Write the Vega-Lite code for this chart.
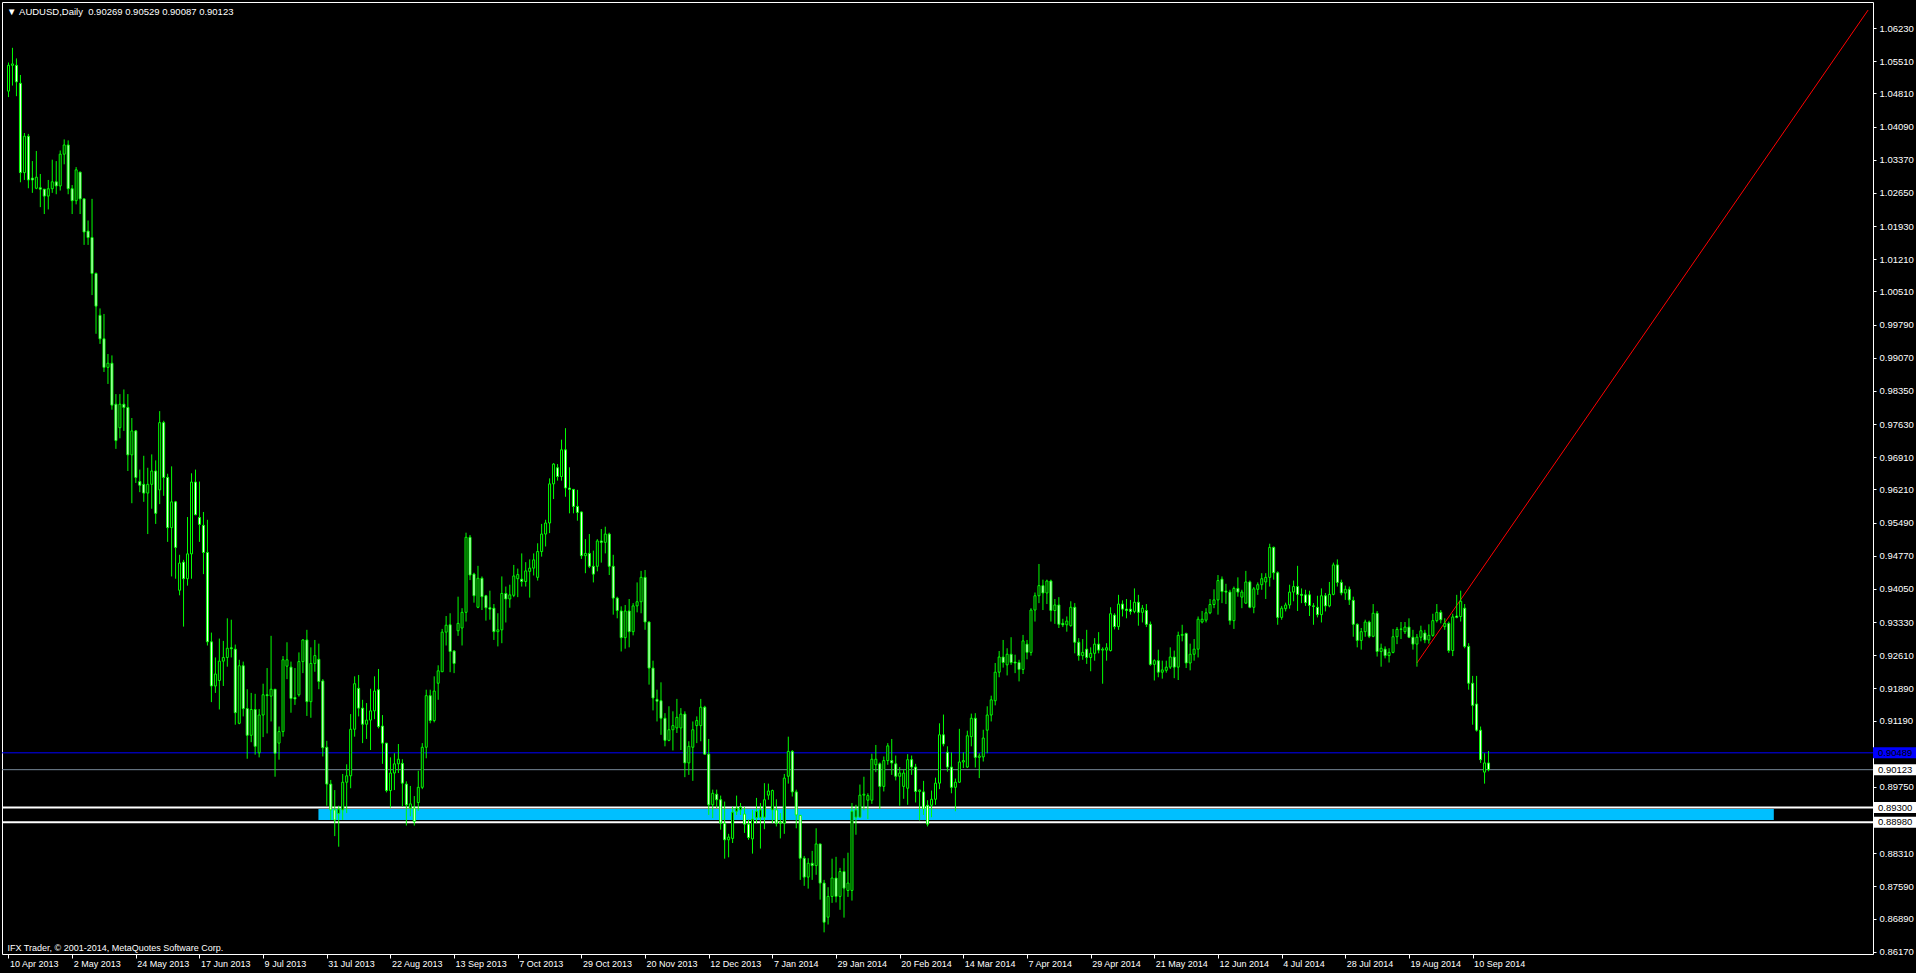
{
"$schema": "https://vega.github.io/schema/vega-lite/v6.json",
"width": 1871, "height": 952,
"autosize": {"type": "none"},
"padding": {"left": 2, "top": 2, "right": 43, "bottom": 19},
"background": "#000000",
"config": {"view": {"stroke": "#ffffff", "strokeWidth": 1, "fill": "#000000"}, "font": "Liberation Sans",
 "axis": {"labelOverlap": false, "labelFlush": false, "labelBound": false, "grid": false, "domain": false, "labelColor": "#ffffff", "tickColor": "#ffffff", "labelFont": "Liberation Sans", "labelFontSize": 9}},
"title": {"text": "▼\u00a0AUDUSD,Daily\u00a0\u00a00.90269 0.90529 0.90087 0.90123", "anchor": "start", "orient": "top", "frame": "group", "offset": -9, "dy": 10, "baseline": "middle", "dx": 5, "color": "#ffffff", "font": "Liberation Sans", "fontSize": 9.5, "fontWeight": "normal"},
"datasets": {
"levels": [{"p":0.90489,"kind":"alert"},{"p":0.90123,"kind":"bid"},{"p":0.8930,"kind":"zone"},{"p":0.8898,"kind":"zone"}],
"zone": [{"t1":77.9,"t2":443.7,"p1":0.8903,"p2":0.8927}],
"trend": [{"i":354,"p":0.9244},{"i":467.4,"p":1.0662}],
"bars": [
{"i":0,"o":1.0486,"h":1.0548,"l":1.0473,"c":1.0542},
{"i":1,"o":1.0542,"h":1.0580,"l":1.0498,"c":1.0545},
{"i":2,"o":1.0542,"h":1.0557,"l":1.0475,"c":1.0506},
{"i":3,"o":1.0503,"h":1.0521,"l":1.0288,"c":1.0309},
{"i":4,"o":1.0309,"h":1.0395,"l":1.0293,"c":1.0388},
{"i":5,"o":1.0388,"h":1.0393,"l":1.0275,"c":1.0293},
{"i":6,"o":1.0297,"h":1.0334,"l":1.0265,"c":1.0293},
{"i":7,"o":1.0275,"h":1.0356,"l":1.0273,"c":1.0299},
{"i":8,"o":1.0276,"h":1.0306,"l":1.0234,"c":1.0273},
{"i":9,"o":1.0273,"h":1.0273,"l":1.0219,"c":1.0258},
{"i":10,"o":1.0258,"h":1.0293,"l":1.0229,"c":1.0274},
{"i":11,"o":1.0274,"h":1.0337,"l":1.0265,"c":1.0289},
{"i":12,"o":1.0289,"h":1.0334,"l":1.0262,"c":1.0280},
{"i":13,"o":1.0280,"h":1.0357,"l":1.0270,"c":1.0349},
{"i":14,"o":1.0349,"h":1.0381,"l":1.0327,"c":1.0369},
{"i":15,"o":1.0369,"h":1.0379,"l":1.0262,"c":1.0274},
{"i":16,"o":1.0274,"h":1.0282,"l":1.0219,"c":1.0248},
{"i":17,"o":1.0248,"h":1.0321,"l":1.0240,"c":1.0315},
{"i":18,"o":1.0310,"h":1.0311,"l":1.0219,"c":1.0252},
{"i":19,"o":1.0252,"h":1.0252,"l":1.0152,"c":1.0180},
{"i":20,"o":1.0182,"h":1.0205,"l":1.0152,"c":1.0168},
{"i":21,"o":1.0168,"h":1.0252,"l":1.0043,"c":1.0090},
{"i":22,"o":1.0090,"h":1.0092,"l":0.9959,"c":1.0019},
{"i":23,"o":0.9999,"h":1.0014,"l":0.9937,"c":0.9948},
{"i":24,"o":0.9948,"h":1.0002,"l":0.9876,"c":0.9886},
{"i":25,"o":0.9886,"h":0.9915,"l":0.9850,"c":0.9895},
{"i":26,"o":0.9895,"h":0.9912,"l":0.9794,"c":0.9804},
{"i":27,"o":0.9806,"h":0.9828,"l":0.9709,"c":0.9727},
{"i":28,"o":0.9755,"h":0.9828,"l":0.9732,"c":0.9806},
{"i":29,"o":0.9806,"h":0.9838,"l":0.9748,"c":0.9799},
{"i":30,"o":0.9799,"h":0.9828,"l":0.9661,"c":0.9696},
{"i":31,"o":0.9696,"h":0.9776,"l":0.9591,"c":0.9748},
{"i":32,"o":0.9748,"h":0.9750,"l":0.9635,"c":0.9647},
{"i":33,"o":0.9638,"h":0.9664,"l":0.9615,"c":0.9630},
{"i":34,"o":0.9632,"h":0.9694,"l":0.9594,"c":0.9613},
{"i":35,"o":0.9613,"h":0.9668,"l":0.9524,"c":0.9632},
{"i":36,"o":0.9632,"h":0.9697,"l":0.9579,"c":0.9661},
{"i":37,"o":0.9661,"h":0.9684,"l":0.9546,"c":0.9569},
{"i":38,"o":0.9620,"h":0.9791,"l":0.9589,"c":0.9766},
{"i":39,"o":0.9766,"h":0.9770,"l":0.9607,"c":0.9647},
{"i":40,"o":0.9647,"h":0.9655,"l":0.9507,"c":0.9538},
{"i":41,"o":0.9538,"h":0.9671,"l":0.9432,"c":0.9594},
{"i":42,"o":0.9594,"h":0.9596,"l":0.9427,"c":0.9495},
{"i":43,"o":0.9402,"h":0.9479,"l":0.9391,"c":0.9461},
{"i":44,"o":0.9463,"h":0.9468,"l":0.9323,"c":0.9427},
{"i":45,"o":0.9427,"h":0.9561,"l":0.9412,"c":0.9481},
{"i":46,"o":0.9481,"h":0.9656,"l":0.9427,"c":0.9637},
{"i":47,"o":0.9637,"h":0.9664,"l":0.9565,"c":0.9566},
{"i":48,"o":0.9560,"h":0.9638,"l":0.9507,"c":0.9545},
{"i":49,"o":0.9543,"h":0.9572,"l":0.9437,"c":0.9484},
{"i":50,"o":0.9484,"h":0.9555,"l":0.9282,"c":0.9290},
{"i":51,"o":0.9290,"h":0.9310,"l":0.9159,"c":0.9194},
{"i":52,"o":0.9194,"h":0.9256,"l":0.9179,"c":0.9220},
{"i":53,"o":0.9206,"h":0.9297,"l":0.9143,"c":0.9248},
{"i":54,"o":0.9248,"h":0.9292,"l":0.9194,"c":0.9256},
{"i":55,"o":0.9256,"h":0.9341,"l":0.9236,"c":0.9276},
{"i":56,"o":0.9277,"h":0.9338,"l":0.9256,"c":0.9275},
{"i":57,"o":0.9274,"h":0.9284,"l":0.9110,"c":0.9136},
{"i":58,"o":0.9113,"h":0.9251,"l":0.9111,"c":0.9238},
{"i":59,"o":0.9238,"h":0.9247,"l":0.9128,"c":0.9145},
{"i":60,"o":0.9145,"h":0.9187,"l":0.9036,"c":0.9087},
{"i":61,"o":0.9087,"h":0.9179,"l":0.9072,"c":0.9143},
{"i":62,"o":0.9143,"h":0.9177,"l":0.9045,"c":0.9063},
{"i":63,"o":0.9049,"h":0.9144,"l":0.9039,"c":0.9131},
{"i":64,"o":0.9131,"h":0.9199,"l":0.9083,"c":0.9175},
{"i":65,"o":0.9175,"h":0.9233,"l":0.9091,"c":0.9173},
{"i":66,"o":0.9172,"h":0.9303,"l":0.9117,"c":0.9187},
{"i":67,"o":0.9187,"h":0.9187,"l":0.8997,"c":0.9048},
{"i":68,"o":0.9070,"h":0.9106,"l":0.9034,"c":0.9095},
{"i":69,"o":0.9095,"h":0.9259,"l":0.9084,"c":0.9251},
{"i":70,"o":0.9237,"h":0.9289,"l":0.9209,"c":0.9251},
{"i":71,"o":0.9235,"h":0.9247,"l":0.9136,"c":0.9167},
{"i":72,"o":0.9169,"h":0.9233,"l":0.9153,"c":0.9166},
{"i":73,"o":0.9175,"h":0.9267,"l":0.9171,"c":0.9247},
{"i":74,"o":0.9247,"h":0.9296,"l":0.9222,"c":0.9294},
{"i":75,"o":0.9294,"h":0.9316,"l":0.9129,"c":0.9160},
{"i":76,"o":0.9160,"h":0.9278,"l":0.9125,"c":0.9243},
{"i":77,"o":0.9243,"h":0.9294,"l":0.9225,"c":0.9260},
{"i":78,"o":0.9252,"h":0.9286,"l":0.9187,"c":0.9204},
{"i":79,"o":0.9205,"h":0.9209,"l":0.9041,"c":0.9060},
{"i":80,"o":0.9061,"h":0.9075,"l":0.8934,"c":0.8981},
{"i":81,"o":0.8981,"h":0.8990,"l":0.8903,"c":0.8925},
{"i":82,"o":0.8925,"h":0.8968,"l":0.8868,"c":0.8903},
{"i":83,"o":0.8917,"h":0.8934,"l":0.8845,"c":0.8927},
{"i":84,"o":0.8925,"h":0.9003,"l":0.8903,"c":0.8985},
{"i":85,"o":0.8985,"h":0.9024,"l":0.8918,"c":0.8999},
{"i":86,"o":0.8999,"h":0.9133,"l":0.8972,"c":0.9100},
{"i":87,"o":0.9100,"h":0.9215,"l":0.9084,"c":0.9199},
{"i":88,"o":0.9189,"h":0.9218,"l":0.9128,"c":0.9146},
{"i":89,"o":0.9146,"h":0.9164,"l":0.9070,"c":0.9111},
{"i":90,"o":0.9111,"h":0.9157,"l":0.9079,"c":0.9120},
{"i":91,"o":0.9120,"h":0.9188,"l":0.9055,"c":0.9140},
{"i":92,"o":0.9140,"h":0.9215,"l":0.9122,"c":0.9183},
{"i":93,"o":0.9186,"h":0.9231,"l":0.9102,"c":0.9106},
{"i":94,"o":0.9107,"h":0.9131,"l":0.9025,"c":0.9070},
{"i":95,"o":0.9070,"h":0.9070,"l":0.8963,"c":0.8967},
{"i":96,"o":0.8967,"h":0.9039,"l":0.8930,"c":0.9005},
{"i":97,"o":0.9005,"h":0.9048,"l":0.8968,"c":0.9025},
{"i":98,"o":0.9025,"h":0.9068,"l":0.9005,"c":0.9035},
{"i":99,"o":0.9026,"h":0.9035,"l":0.8932,"c":0.8983},
{"i":100,"o":0.8981,"h":0.8987,"l":0.8891,"c":0.8936},
{"i":101,"o":0.8929,"h":0.8977,"l":0.8911,"c":0.8938},
{"i":102,"o":0.8929,"h":0.8955,"l":0.8891,"c":0.8900},
{"i":103,"o":0.8941,"h":0.9010,"l":0.8923,"c":0.8974},
{"i":104,"o":0.8974,"h":0.9070,"l":0.8970,"c":0.9061},
{"i":105,"o":0.9061,"h":0.9186,"l":0.9037,"c":0.9173},
{"i":106,"o":0.9173,"h":0.9186,"l":0.9113,"c":0.9119},
{"i":107,"o":0.9119,"h":0.9215,"l":0.9115,"c":0.9183},
{"i":108,"o":0.9200,"h":0.9239,"l":0.9164,"c":0.9227},
{"i":109,"o":0.9225,"h":0.9318,"l":0.9225,"c":0.9311},
{"i":110,"o":0.9311,"h":0.9346,"l":0.9282,"c":0.9326},
{"i":111,"o":0.9327,"h":0.9352,"l":0.9224,"c":0.9269},
{"i":112,"o":0.9270,"h":0.9272,"l":0.9222,"c":0.9243},
{"i":113,"o":0.9314,"h":0.9388,"l":0.9303,"c":0.9330},
{"i":114,"o":0.9320,"h":0.9363,"l":0.9282,"c":0.9354},
{"i":115,"o":0.9354,"h":0.9527,"l":0.9334,"c":0.9517},
{"i":116,"o":0.9517,"h":0.9522,"l":0.9424,"c":0.9435},
{"i":117,"o":0.9437,"h":0.9440,"l":0.9375,"c":0.9390},
{"i":118,"o":0.9365,"h":0.9455,"l":0.9363,"c":0.9428},
{"i":119,"o":0.9428,"h":0.9432,"l":0.9359,"c":0.9388},
{"i":120,"o":0.9390,"h":0.9392,"l":0.9336,"c":0.9364},
{"i":121,"o":0.9364,"h":0.9401,"l":0.9338,"c":0.9361},
{"i":122,"o":0.9363,"h":0.9372,"l":0.9294,"c":0.9312},
{"i":123,"o":0.9312,"h":0.9352,"l":0.9280,"c":0.9316},
{"i":124,"o":0.9316,"h":0.9432,"l":0.9287,"c":0.9395},
{"i":125,"o":0.9395,"h":0.9410,"l":0.9332,"c":0.9383},
{"i":126,"o":0.9383,"h":0.9414,"l":0.9364,"c":0.9392},
{"i":127,"o":0.9391,"h":0.9457,"l":0.9387,"c":0.9433},
{"i":128,"o":0.9427,"h":0.9449,"l":0.9387,"c":0.9436},
{"i":129,"o":0.9426,"h":0.9482,"l":0.9410,"c":0.9421},
{"i":130,"o":0.9421,"h":0.9463,"l":0.9410,"c":0.9444},
{"i":131,"o":0.9443,"h":0.9469,"l":0.9386,"c":0.9450},
{"i":132,"o":0.9450,"h":0.9482,"l":0.9434,"c":0.9468},
{"i":133,"o":0.9430,"h":0.9504,"l":0.9423,"c":0.9486},
{"i":134,"o":0.9486,"h":0.9546,"l":0.9475,"c":0.9524},
{"i":135,"o":0.9524,"h":0.9555,"l":0.9497,"c":0.9548},
{"i":136,"o":0.9548,"h":0.9645,"l":0.9526,"c":0.9633},
{"i":137,"o":0.9633,"h":0.9678,"l":0.9600,"c":0.9676},
{"i":138,"o":0.9668,"h":0.9676,"l":0.9640,"c":0.9649},
{"i":139,"o":0.9649,"h":0.9729,"l":0.9640,"c":0.9707},
{"i":140,"o":0.9707,"h":0.9754,"l":0.9605,"c":0.9624},
{"i":141,"o":0.9624,"h":0.9669,"l":0.9569,"c":0.9621},
{"i":142,"o":0.9621,"h":0.9622,"l":0.9569,"c":0.9584},
{"i":143,"o":0.9584,"h":0.9620,"l":0.9553,"c":0.9571},
{"i":144,"o":0.9572,"h":0.9573,"l":0.9470,"c":0.9477},
{"i":145,"o":0.9477,"h":0.9513,"l":0.9439,"c":0.9482},
{"i":146,"o":0.9482,"h":0.9524,"l":0.9450,"c":0.9454},
{"i":147,"o":0.9454,"h":0.9488,"l":0.9419,"c":0.9437},
{"i":148,"o":0.9454,"h":0.9513,"l":0.9443,"c":0.9509},
{"i":149,"o":0.9509,"h":0.9535,"l":0.9462,"c":0.9506},
{"i":150,"o":0.9506,"h":0.9540,"l":0.9482,"c":0.9524},
{"i":151,"o":0.9524,"h":0.9527,"l":0.9435,"c":0.9454},
{"i":152,"o":0.9454,"h":0.9479,"l":0.9349,"c":0.9385},
{"i":153,"o":0.9385,"h":0.9388,"l":0.9341,"c":0.9358},
{"i":154,"o":0.9357,"h":0.9367,"l":0.9269,"c":0.9299},
{"i":155,"o":0.9299,"h":0.9370,"l":0.9275,"c":0.9357},
{"i":156,"o":0.9357,"h":0.9383,"l":0.9278,"c":0.9312},
{"i":157,"o":0.9312,"h":0.9374,"l":0.9304,"c":0.9368},
{"i":158,"o":0.9368,"h":0.9419,"l":0.9354,"c":0.9377},
{"i":159,"o":0.9377,"h":0.9444,"l":0.9352,"c":0.9430},
{"i":160,"o":0.9430,"h":0.9446,"l":0.9316,"c":0.9333},
{"i":161,"o":0.9333,"h":0.9334,"l":0.9197,"c":0.9233},
{"i":162,"o":0.9233,"h":0.9249,"l":0.9141,"c":0.9168},
{"i":163,"o":0.9165,"h":0.9186,"l":0.9117,"c":0.9161},
{"i":164,"o":0.9162,"h":0.9202,"l":0.9088,"c":0.9124},
{"i":165,"o":0.9124,"h":0.9135,"l":0.9063,"c":0.9076},
{"i":166,"o":0.9076,"h":0.9150,"l":0.9074,"c":0.9099},
{"i":167,"o":0.9099,"h":0.9139,"l":0.9054,"c":0.9108},
{"i":168,"o":0.9103,"h":0.9166,"l":0.9092,"c":0.9126},
{"i":169,"o":0.9103,"h":0.9146,"l":0.9055,"c":0.9133},
{"i":170,"o":0.9133,"h":0.9139,"l":0.8996,"c":0.9027},
{"i":171,"o":0.9027,"h":0.9074,"l":0.9001,"c":0.9063},
{"i":172,"o":0.9061,"h":0.9117,"l":0.8988,"c":0.9099},
{"i":173,"o":0.9108,"h":0.9128,"l":0.9070,"c":0.9119},
{"i":174,"o":0.9108,"h":0.9166,"l":0.9074,"c":0.9148},
{"i":175,"o":0.9148,"h":0.9151,"l":0.9045,"c":0.9046},
{"i":176,"o":0.9046,"h":0.9079,"l":0.8914,"c":0.8936},
{"i":177,"o":0.8936,"h":0.8969,"l":0.8907,"c":0.8961},
{"i":178,"o":0.8959,"h":0.8969,"l":0.8929,"c":0.8947},
{"i":179,"o":0.8947,"h":0.8956,"l":0.8882,"c":0.8896},
{"i":180,"o":0.8896,"h":0.8943,"l":0.8819,"c":0.8860},
{"i":181,"o":0.8860,"h":0.8873,"l":0.8822,"c":0.8866},
{"i":182,"o":0.8863,"h":0.8932,"l":0.8853,"c":0.8920},
{"i":183,"o":0.8922,"h":0.8956,"l":0.8914,"c":0.8929},
{"i":184,"o":0.8925,"h":0.8940,"l":0.8914,"c":0.8931},
{"i":185,"o":0.8916,"h":0.8931,"l":0.8875,"c":0.8894},
{"i":186,"o":0.8894,"h":0.8904,"l":0.8860,"c":0.8865},
{"i":187,"o":0.8862,"h":0.8925,"l":0.8830,"c":0.8905},
{"i":188,"o":0.8908,"h":0.8951,"l":0.8896,"c":0.8922},
{"i":189,"o":0.8909,"h":0.8940,"l":0.8841,"c":0.8925},
{"i":190,"o":0.8909,"h":0.8983,"l":0.8883,"c":0.8947},
{"i":191,"o":0.8957,"h":0.8982,"l":0.8947,"c":0.8966},
{"i":192,"o":0.8925,"h":0.8969,"l":0.8896,"c":0.8967},
{"i":193,"o":0.8925,"h":0.8948,"l":0.8889,"c":0.8896},
{"i":194,"o":0.8898,"h":0.8918,"l":0.8863,"c":0.8896},
{"i":195,"o":0.8896,"h":0.9003,"l":0.8873,"c":0.8994},
{"i":196,"o":0.8998,"h":0.9084,"l":0.8982,"c":0.9052},
{"i":197,"o":0.9052,"h":0.9055,"l":0.8954,"c":0.8964},
{"i":198,"o":0.8964,"h":0.8969,"l":0.8885,"c":0.8914},
{"i":199,"o":0.8913,"h":0.8914,"l":0.8773,"c":0.8820},
{"i":200,"o":0.8820,"h":0.8825,"l":0.8760,"c":0.8779},
{"i":201,"o":0.8779,"h":0.8820,"l":0.8754,"c":0.8809},
{"i":202,"o":0.8809,"h":0.8836,"l":0.8773,"c":0.8804},
{"i":203,"o":0.8804,"h":0.8885,"l":0.8784,"c":0.8851},
{"i":204,"o":0.8851,"h":0.8851,"l":0.8730,"c":0.8766},
{"i":205,"o":0.8766,"h":0.8773,"l":0.8659,"c":0.8681},
{"i":206,"o":0.8692,"h":0.8757,"l":0.8676,"c":0.8737},
{"i":207,"o":0.8737,"h":0.8819,"l":0.8723,"c":0.8777},
{"i":208,"o":0.8777,"h":0.8823,"l":0.8724,"c":0.8737},
{"i":209,"o":0.8737,"h":0.8799,"l":0.8708,"c":0.8791},
{"i":210,"o":0.8791,"h":0.8820,"l":0.8691,"c":0.8755},
{"i":211,"o":0.8750,"h":0.8832,"l":0.8736,"c":0.8766},
{"i":212,"o":0.8750,"h":0.8940,"l":0.8728,"c":0.8922},
{"i":213,"o":0.8909,"h":0.8936,"l":0.8871,"c":0.8925},
{"i":214,"o":0.8909,"h":0.8980,"l":0.8909,"c":0.8957},
{"i":215,"o":0.8957,"h":0.8997,"l":0.8924,"c":0.8959},
{"i":216,"o":0.8946,"h":0.8961,"l":0.8905,"c":0.8956},
{"i":217,"o":0.8946,"h":0.9047,"l":0.8938,"c":0.9035},
{"i":218,"o":0.9023,"h":0.9066,"l":0.9007,"c":0.9035},
{"i":219,"o":0.9025,"h":0.9028,"l":0.8927,"c":0.8976},
{"i":220,"o":0.8976,"h":0.9041,"l":0.8965,"c":0.9032},
{"i":221,"o":0.9032,"h":0.9070,"l":0.9023,"c":0.9064},
{"i":222,"o":0.9032,"h":0.9079,"l":0.9001,"c":0.9027},
{"i":223,"o":0.9025,"h":0.9043,"l":0.8989,"c":0.8998},
{"i":224,"o":0.8998,"h":0.9018,"l":0.8934,"c":0.9005},
{"i":225,"o":0.8976,"h":0.9013,"l":0.8949,"c":0.9005},
{"i":226,"o":0.8972,"h":0.9046,"l":0.8936,"c":0.9034},
{"i":227,"o":0.9034,"h":0.9043,"l":0.9001,"c":0.9018},
{"i":228,"o":0.9018,"h":0.9025,"l":0.8941,"c":0.8965},
{"i":229,"o":0.8965,"h":0.8969,"l":0.8902,"c":0.8968},
{"i":230,"o":0.8964,"h":0.8988,"l":0.8914,"c":0.8927},
{"i":231,"o":0.8935,"h":0.8946,"l":0.8889,"c":0.8894},
{"i":232,"o":0.8935,"h":0.8967,"l":0.8909,"c":0.8948},
{"i":233,"o":0.8948,"h":0.8995,"l":0.8936,"c":0.8983},
{"i":234,"o":0.8983,"h":0.9113,"l":0.8970,"c":0.9088},
{"i":235,"o":0.9088,"h":0.9132,"l":0.9063,"c":0.9068},
{"i":236,"o":0.9050,"h":0.9063,"l":0.9008,"c":0.9018},
{"i":237,"o":0.9018,"h":0.9050,"l":0.8961,"c":0.8974},
{"i":238,"o":0.8974,"h":0.8993,"l":0.8922,"c":0.8985},
{"i":239,"o":0.8985,"h":0.9101,"l":0.8984,"c":0.9029},
{"i":240,"o":0.9029,"h":0.9050,"l":0.9016,"c":0.9032},
{"i":241,"o":0.9018,"h":0.9097,"l":0.9016,"c":0.9086},
{"i":242,"o":0.9084,"h":0.9134,"l":0.9063,"c":0.9124},
{"i":243,"o":0.9124,"h":0.9135,"l":0.9017,"c":0.9039},
{"i":244,"o":0.9039,"h":0.9048,"l":0.8994,"c":0.9042},
{"i":245,"o":0.9040,"h":0.9099,"l":0.9030,"c":0.9081},
{"i":246,"o":0.9098,"h":0.9150,"l":0.9048,"c":0.9131},
{"i":247,"o":0.9131,"h":0.9173,"l":0.9117,"c":0.9164},
{"i":248,"o":0.9162,"h":0.9244,"l":0.9152,"c":0.9224},
{"i":249,"o":0.9224,"h":0.9270,"l":0.9213,"c":0.9257},
{"i":250,"o":0.9257,"h":0.9294,"l":0.9234,"c":0.9245},
{"i":251,"o":0.9240,"h":0.9276,"l":0.9217,"c":0.9263},
{"i":252,"o":0.9263,"h":0.9300,"l":0.9240,"c":0.9245},
{"i":253,"o":0.9246,"h":0.9262,"l":0.9222,"c":0.9244},
{"i":254,"o":0.9245,"h":0.9251,"l":0.9204,"c":0.9230},
{"i":255,"o":0.9230,"h":0.9305,"l":0.9220,"c":0.9292},
{"i":256,"o":0.9285,"h":0.9294,"l":0.9252,"c":0.9267},
{"i":257,"o":0.9267,"h":0.9363,"l":0.9260,"c":0.9359},
{"i":258,"o":0.9359,"h":0.9397,"l":0.9334,"c":0.9390},
{"i":259,"o":0.9390,"h":0.9459,"l":0.9374,"c":0.9412},
{"i":260,"o":0.9412,"h":0.9425,"l":0.9359,"c":0.9396},
{"i":261,"o":0.9396,"h":0.9425,"l":0.9372,"c":0.9422},
{"i":262,"o":0.9422,"h":0.9425,"l":0.9334,"c":0.9358},
{"i":263,"o":0.9358,"h":0.9383,"l":0.9329,"c":0.9370},
{"i":264,"o":0.9370,"h":0.9387,"l":0.9320,"c":0.9328},
{"i":265,"o":0.9330,"h":0.9340,"l":0.9322,"c":0.9327},
{"i":266,"o":0.9327,"h":0.9345,"l":0.9312,"c":0.9335},
{"i":267,"o":0.9325,"h":0.9378,"l":0.9323,"c":0.9365},
{"i":268,"o":0.9365,"h":0.9374,"l":0.9265,"c":0.9289},
{"i":269,"o":0.9289,"h":0.9298,"l":0.9249,"c":0.9260},
{"i":270,"o":0.9260,"h":0.9296,"l":0.9251,"c":0.9267},
{"i":271,"o":0.9274,"h":0.9316,"l":0.9242,"c":0.9256},
{"i":272,"o":0.9256,"h":0.9278,"l":0.9226,"c":0.9265},
{"i":273,"o":0.9265,"h":0.9298,"l":0.9249,"c":0.9285},
{"i":274,"o":0.9285,"h":0.9311,"l":0.9265,"c":0.9272},
{"i":275,"o":0.9272,"h":0.9278,"l":0.9199,"c":0.9274},
{"i":276,"o":0.9272,"h":0.9287,"l":0.9249,"c":0.9277},
{"i":277,"o":0.9271,"h":0.9365,"l":0.9269,"c":0.9351},
{"i":278,"o":0.9348,"h":0.9352,"l":0.9317,"c":0.9323},
{"i":279,"o":0.9323,"h":0.9392,"l":0.9316,"c":0.9372},
{"i":280,"o":0.9372,"h":0.9380,"l":0.9345,"c":0.9361},
{"i":281,"o":0.9361,"h":0.9383,"l":0.9341,"c":0.9358},
{"i":282,"o":0.9361,"h":0.9381,"l":0.9349,"c":0.9356},
{"i":283,"o":0.9356,"h":0.9406,"l":0.9352,"c":0.9376},
{"i":284,"o":0.9376,"h":0.9392,"l":0.9325,"c":0.9354},
{"i":285,"o":0.9354,"h":0.9370,"l":0.9332,"c":0.9363},
{"i":286,"o":0.9358,"h":0.9372,"l":0.9322,"c":0.9328},
{"i":287,"o":0.9328,"h":0.9334,"l":0.9238,"c":0.9241},
{"i":288,"o":0.9241,"h":0.9252,"l":0.9206,"c":0.9249},
{"i":289,"o":0.9249,"h":0.9273,"l":0.9213,"c":0.9224},
{"i":290,"o":0.9224,"h":0.9249,"l":0.9210,"c":0.9229},
{"i":291,"o":0.9228,"h":0.9249,"l":0.9223,"c":0.9235},
{"i":292,"o":0.9235,"h":0.9278,"l":0.9231,"c":0.9257},
{"i":293,"o":0.9257,"h":0.9271,"l":0.9211,"c":0.9235},
{"i":294,"o":0.9235,"h":0.9312,"l":0.9207,"c":0.9304},
{"i":295,"o":0.9304,"h":0.9327,"l":0.9291,"c":0.9306},
{"i":296,"o":0.9308,"h":0.9310,"l":0.9233,"c":0.9244},
{"i":297,"o":0.9244,"h":0.9286,"l":0.9228,"c":0.9263},
{"i":298,"o":0.9263,"h":0.9296,"l":0.9249,"c":0.9274},
{"i":299,"o":0.9274,"h":0.9345,"l":0.9256,"c":0.9339},
{"i":300,"o":0.9333,"h":0.9357,"l":0.9330,"c":0.9339},
{"i":301,"o":0.9337,"h":0.9363,"l":0.9332,"c":0.9353},
{"i":302,"o":0.9353,"h":0.9383,"l":0.9350,"c":0.9371},
{"i":303,"o":0.9371,"h":0.9404,"l":0.9363,"c":0.9381},
{"i":304,"o":0.9381,"h":0.9435,"l":0.9349,"c":0.9423},
{"i":305,"o":0.9426,"h":0.9432,"l":0.9374,"c":0.9399},
{"i":306,"o":0.9400,"h":0.9416,"l":0.9372,"c":0.9398},
{"i":307,"o":0.9398,"h":0.9403,"l":0.9327,"c":0.9336},
{"i":308,"o":0.9336,"h":0.9410,"l":0.9318,"c":0.9406},
{"i":309,"o":0.9406,"h":0.9430,"l":0.9388,"c":0.9398},
{"i":310,"o":0.9387,"h":0.9403,"l":0.9363,"c":0.9398},
{"i":311,"o":0.9374,"h":0.9444,"l":0.9372,"c":0.9420},
{"i":312,"o":0.9420,"h":0.9423,"l":0.9363,"c":0.9365},
{"i":313,"o":0.9365,"h":0.9409,"l":0.9352,"c":0.9405},
{"i":314,"o":0.9404,"h":0.9419,"l":0.9392,"c":0.9414},
{"i":315,"o":0.9414,"h":0.9439,"l":0.9403,"c":0.9427},
{"i":316,"o":0.9420,"h":0.9439,"l":0.9383,"c":0.9430},
{"i":317,"o":0.9430,"h":0.9503,"l":0.9410,"c":0.9495},
{"i":318,"o":0.9495,"h":0.9497,"l":0.9425,"c":0.9440},
{"i":319,"o":0.9440,"h":0.9443,"l":0.9327,"c":0.9343},
{"i":320,"o":0.9343,"h":0.9368,"l":0.9338,"c":0.9363},
{"i":321,"o":0.9362,"h":0.9375,"l":0.9356,"c":0.9370},
{"i":322,"o":0.9370,"h":0.9414,"l":0.9362,"c":0.9398},
{"i":323,"o":0.9398,"h":0.9423,"l":0.9378,"c":0.9410},
{"i":324,"o":0.9410,"h":0.9455,"l":0.9357,"c":0.9393},
{"i":325,"o":0.9393,"h":0.9406,"l":0.9374,"c":0.9391},
{"i":326,"o":0.9392,"h":0.9403,"l":0.9368,"c":0.9375},
{"i":327,"o":0.9392,"h":0.9401,"l":0.9346,"c":0.9369},
{"i":328,"o":0.9368,"h":0.9374,"l":0.9327,"c":0.9367},
{"i":329,"o":0.9365,"h":0.9390,"l":0.9343,"c":0.9349},
{"i":330,"o":0.9349,"h":0.9406,"l":0.9332,"c":0.9390},
{"i":331,"o":0.9390,"h":0.9396,"l":0.9356,"c":0.9368},
{"i":332,"o":0.9368,"h":0.9420,"l":0.9365,"c":0.9393},
{"i":333,"o":0.9393,"h":0.9462,"l":0.9391,"c":0.9457},
{"i":334,"o":0.9457,"h":0.9469,"l":0.9410,"c":0.9419},
{"i":335,"o":0.9419,"h":0.9425,"l":0.9391,"c":0.9396},
{"i":336,"o":0.9396,"h":0.9412,"l":0.9381,"c":0.9404},
{"i":337,"o":0.9404,"h":0.9410,"l":0.9370,"c":0.9381},
{"i":338,"o":0.9380,"h":0.9388,"l":0.9301,"c":0.9328},
{"i":339,"o":0.9328,"h":0.9330,"l":0.9278,"c":0.9293},
{"i":340,"o":0.9293,"h":0.9320,"l":0.9273,"c":0.9312},
{"i":341,"o":0.9312,"h":0.9338,"l":0.9301,"c":0.9333},
{"i":342,"o":0.9333,"h":0.9336,"l":0.9298,"c":0.9302},
{"i":343,"o":0.9302,"h":0.9372,"l":0.9300,"c":0.9352},
{"i":344,"o":0.9352,"h":0.9357,"l":0.9258,"c":0.9269},
{"i":345,"o":0.9269,"h":0.9286,"l":0.9236,"c":0.9276},
{"i":346,"o":0.9274,"h":0.9280,"l":0.9254,"c":0.9260},
{"i":347,"o":0.9260,"h":0.9276,"l":0.9245,"c":0.9267},
{"i":348,"o":0.9267,"h":0.9318,"l":0.9265,"c":0.9301},
{"i":349,"o":0.9301,"h":0.9322,"l":0.9285,"c":0.9317},
{"i":350,"o":0.9317,"h":0.9333,"l":0.9296,"c":0.9318},
{"i":351,"o":0.9312,"h":0.9333,"l":0.9307,"c":0.9322},
{"i":352,"o":0.9322,"h":0.9341,"l":0.9298,"c":0.9300},
{"i":353,"o":0.9300,"h":0.9316,"l":0.9273,"c":0.9285},
{"i":354,"o":0.9285,"h":0.9307,"l":0.9236,"c":0.9300},
{"i":355,"o":0.9300,"h":0.9325,"l":0.9291,"c":0.9314},
{"i":356,"o":0.9309,"h":0.9316,"l":0.9287,"c":0.9294},
{"i":357,"o":0.9294,"h":0.9328,"l":0.9286,"c":0.9304},
{"i":358,"o":0.9304,"h":0.9351,"l":0.9301,"c":0.9336},
{"i":359,"o":0.9336,"h":0.9372,"l":0.9332,"c":0.9354},
{"i":360,"o":0.9354,"h":0.9359,"l":0.9330,"c":0.9338},
{"i":361,"o":0.9323,"h":0.9341,"l":0.9316,"c":0.9330},
{"i":362,"o":0.9330,"h":0.9334,"l":0.9266,"c":0.9271},
{"i":363,"o":0.9271,"h":0.9351,"l":0.9259,"c":0.9344},
{"i":364,"o":0.9346,"h":0.9392,"l":0.9341,"c":0.9343},
{"i":365,"o":0.9345,"h":0.9401,"l":0.9334,"c":0.9378},
{"i":366,"o":0.9363,"h":0.9372,"l":0.9276,"c":0.9280},
{"i":367,"o":0.9280,"h":0.9287,"l":0.9186,"c":0.9200},
{"i":368,"o":0.9200,"h":0.9216,"l":0.9110,"c":0.9152},
{"i":369,"o":0.9155,"h":0.9216,"l":0.9095,"c":0.9098},
{"i":370,"o":0.9098,"h":0.9106,"l":0.9027,"c":0.9034},
{"i":371,"o":0.9007,"h":0.9048,"l":0.8982,"c":0.9027},
{"i":372,"o":0.90269,"h":0.90529,"l":0.90087,"c":0.90123}
]
},
"layer": [
{"data": {"name": "zone"}, "mark": {"type": "rect", "fill": "#00bfff"},
 "encoding": {
  "x": {"field": "t1", "type": "quantitative", "scale": {"domain": [-0.375, 467.375], "nice": false, "zero": false},
   "axis": {"values": [0,16,32,48,64,80,96,112,128,144,160,176,192,208,224,240,256,272,288,304,320,336,352,368], "tickCount": 60,
    "labelExpr": "['10 Apr 2013','2 May 2013','24 May 2013','17 Jun 2013','9 Jul 2013','31 Jul 2013','22 Aug 2013','13 Sep 2013','7 Oct 2013','29 Oct 2013','20 Nov 2013','12 Dec 2013','7 Jan 2014','29 Jan 2014','20 Feb 2014','14 Mar 2014','7 Apr 2014','29 Apr 2014','21 May 2014','12 Jun 2014','4 Jul 2014','28 Jul 2014','19 Aug 2014','10 Sep 2014'][round(datum.value/16)]",
    "labelAlign": "left", "labelBaseline": "top", "labelOffset": 1, "labelPadding": 1, "labelColor": "#ffffff", "labelFont": "Liberation Sans", "labelFontSize": 9,
    "labelOverlap": false, "labelFlush": false, "tickColor": "#ffffff", "tickSize": 4, "domain": false, "grid": false,
    "title": "IFX Trader, © 2001-2014, MetaQuotes Software Corp.", "titleX": 5, "titleY": -7, "titleAnchor": "start", "titleAlign": "left", "titleBaseline": "middle",
    "titleColor": "#ffffff", "titleFont": "Liberation Sans", "titleFontSize": 9, "titleFontWeight": "normal"}},
  "x2": {"field": "t2"},
  "y": {"field": "p1", "type": "quantitative", "scale": {"domain": [0.86120, 1.06795], "nice": false, "zero": false},
   "axis": {"orient": "right", "tickCount": 60, "values": [1.0623,1.0551,1.0481,1.0409,1.0337,1.0265,1.0193,1.0121,1.0051,0.9979,0.9907,0.9835,0.9763,0.9691,0.9621,0.9549,0.9477,0.9405,0.9333,0.9261,0.9189,0.9119,0.8975,0.8831,0.8759,0.8689,0.8617],
    "format": ".5f", "labelAlign": "left", "labelBaseline": "middle", "labelPadding": 3, "labelColor": "#ffffff", "labelFont": "Liberation Sans", "labelFontSize": 9.5,
    "labelOverlap": false, "labelFlush": false, "tickColor": "#ffffff", "tickSize": 3, "domain": false, "grid": false, "title": null}},
  "y2": {"field": "p2"}}},
{"data": {"name": "levels"}, "transform": [{"filter": "datum.kind != 'zone'"}],
 "mark": {"type": "rule", "strokeWidth": 1},
 "encoding": {
  "y": {"field": "p", "type": "quantitative"},
  "color": {"field": "kind", "type": "nominal", "scale": {"domain": ["alert", "bid"], "range": ["#0000ff", "#778899"]}, "legend": null}}},
{"data": {"name": "levels"}, "transform": [{"filter": "datum.kind == 'zone'"}],
 "mark": {"type": "rule", "strokeWidth": 2, "color": "#ffffff"},
 "encoding": {"y": {"field": "p", "type": "quantitative"}}},
{"data": {"name": "trend"}, "mark": {"type": "line", "color": "#ff0000", "strokeWidth": 1},
 "encoding": {
  "x": {"field": "i", "type": "quantitative"},
  "y": {"field": "p", "type": "quantitative"}}},
{"data": {"name": "bars"}, "mark": {"type": "rule", "color": "#00ff00", "strokeWidth": 1},
 "encoding": {
  "x": {"field": "i", "type": "quantitative"},
  "y": {"field": "l", "type": "quantitative"},
  "y2": {"field": "h"}}},
{"data": {"name": "bars"}, "mark": {"type": "bar", "size": 2, "stroke": "#00ff00", "strokeWidth": 1},
 "encoding": {
  "x": {"field": "i", "type": "quantitative"},
  "y": {"field": "o", "type": "quantitative"},
  "y2": {"field": "c"},
  "fill": {"condition": {"test": "datum.c < datum.o", "value": "#ffffff"}, "value": "#000000"}}},
{"data": {"name": "levels"}, "mark": {"type": "rule", "strokeWidth": 11, "x2Offset": 43},
 "encoding": {
  "x": {"value": "width"}, "x2": {"value": "width"},
  "y": {"field": "p", "type": "quantitative"},
  "color": {"field": "kind", "type": "nominal", "scale": {"domain": ["alert", "bid", "zone"], "range": ["#0000ff", "#ffffff", "#ffffff"]}, "legend": null}}},
{"data": {"name": "levels"}, "mark": {"type": "text", "align": "left", "baseline": "middle", "dx": 5, "font": "Liberation Sans", "fontSize": 9.5, "color": "#000000"},
 "encoding": {
  "x": {"value": "width"},
  "y": {"field": "p", "type": "quantitative"},
  "text": {"field": "p", "type": "quantitative", "format": ".5f"}}}
],
"resolve": {"scale": {"color": "independent"}}
}
